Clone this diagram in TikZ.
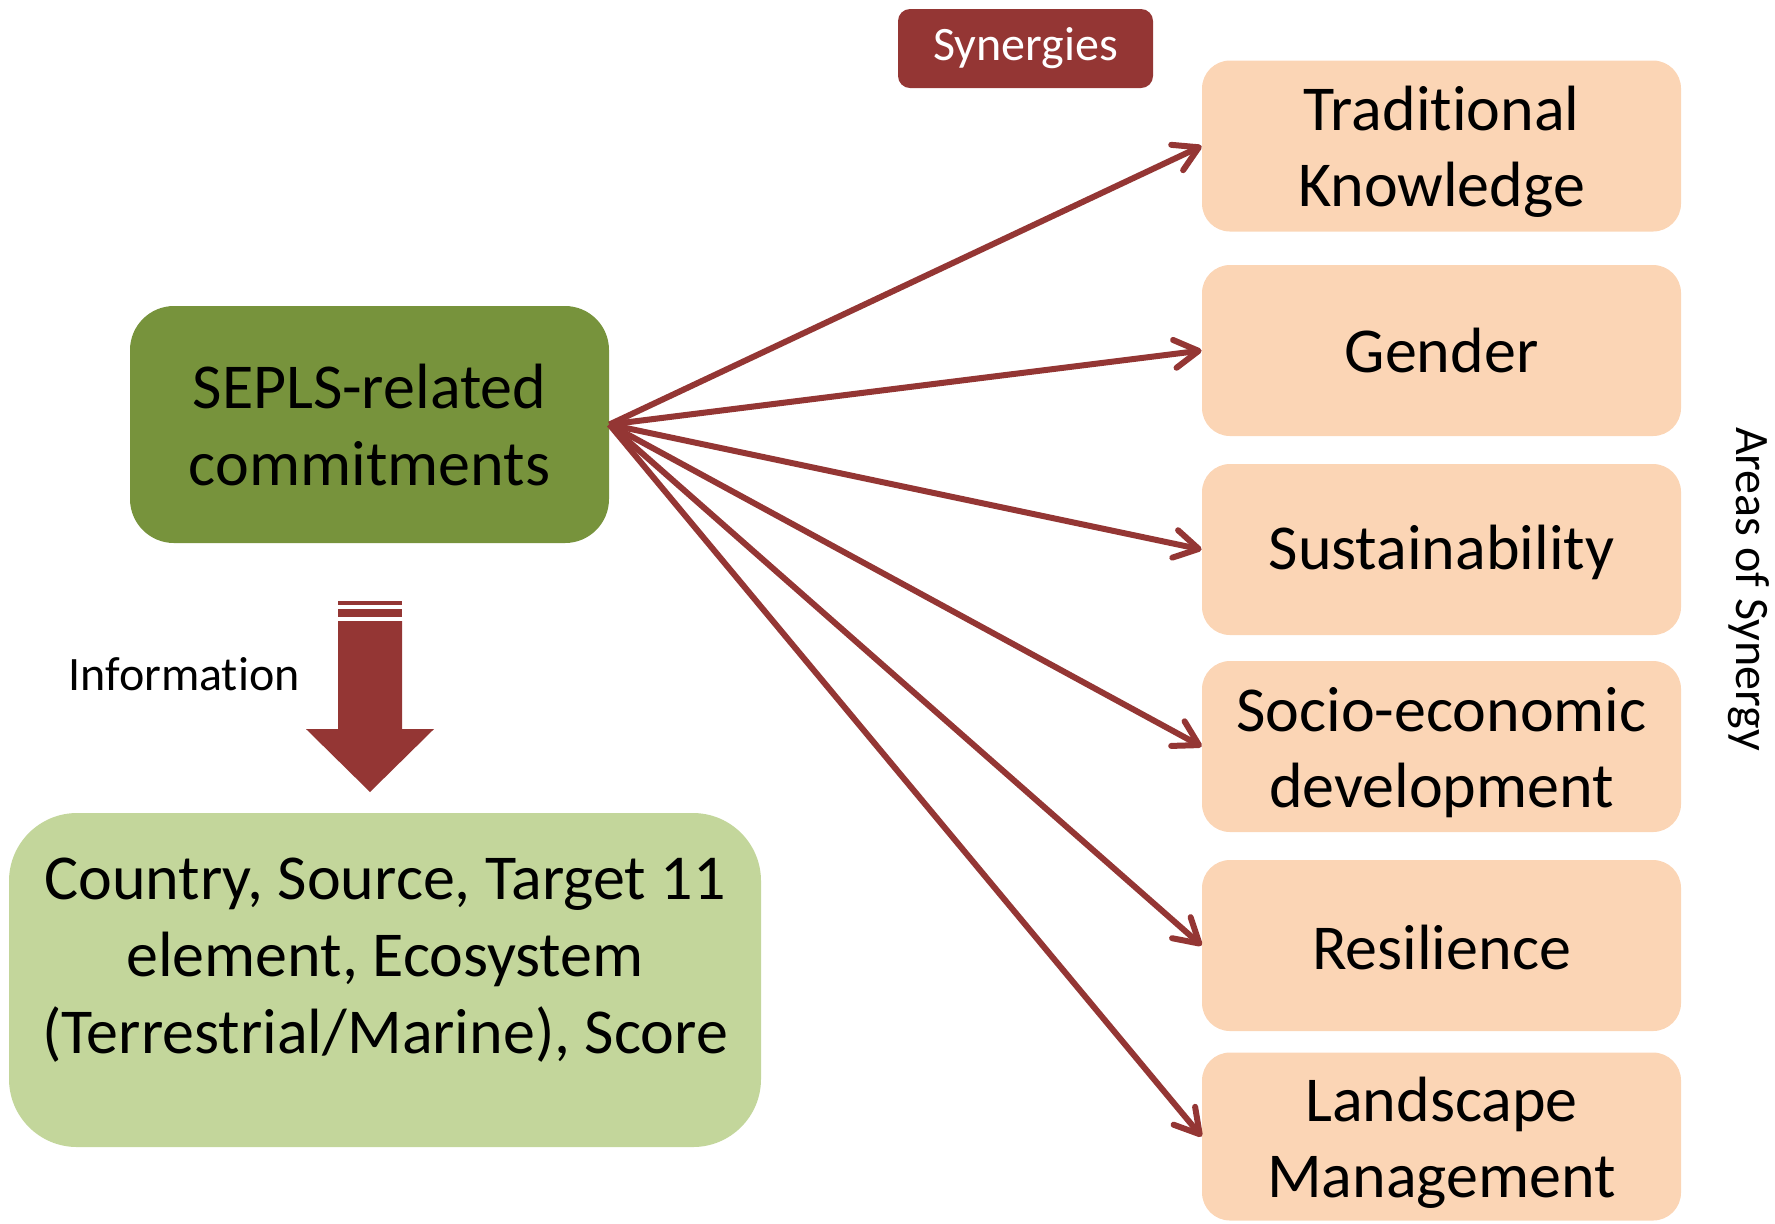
\documentclass[tikz,border=0pt]{standalone}
\usepackage{fontspec}
\setmainfont{Carlito}[Ligatures=NoCommon]
\usetikzlibrary{arrows.meta}
\definecolor{dred}{HTML}{943634}
\definecolor{dgreen}{HTML}{77933C}
\definecolor{lgreen}{HTML}{C3D69B}
\definecolor{peach}{HTML}{FBD5B5}
\begin{document}
\begin{tikzpicture}[x=0.5pt,y=-0.5pt,
  area/.style={fill=peach, rounded corners=14pt, minimum width=239.5pt, minimum height=85.5pt, inner sep=0pt},
  areatext/.style={align=center, font=\fontsize{32}{38}\selectfont, inner sep=0pt},
  link/.style={draw=dred, line width=3pt, -{Straight Barb[length=12pt,width=14pt,round]}}]
\useasboundingbox (0,0) rectangle (1775,1223);
% source box
\node[fill=dgreen, rounded corners=22pt, minimum width=239.5pt, minimum height=118.5pt, align=center, font=\fontsize{32}{38.5}\selectfont, inner sep=0pt] (seplsbox) at (369.5,424.5) {SEPLS-related\\commitments};
% info box
\node[fill=lgreen, rounded corners=34pt, minimum width=376pt, minimum height=167pt, inner sep=0pt] (infobox) at (385,980) {};
\node[align=center, font=\fontsize{32}{38.5}\selectfont, inner sep=0pt] (infotext) at (385,960) {Country, Source, Target 11\\element, Ecosystem\\(Terrestrial/Marine), Score};
% block arrow
\fill[dred] (338,601) rectangle (402,605);
\fill[dred] (338,609) rectangle (402,617);
\fill[dred] (338,621) -- (402,621) -- (402,729) -- (434,729) -- (370,792) -- (306,729) -- (338,729) -- cycle;
\node[font=\fontsize{24}{27}\selectfont, inner sep=0pt] (infolabel) at (184,674) {Information};
% synergies label
\node[fill=dred, text=white, rounded corners=6pt, minimum width=127.5pt, minimum height=39.5pt, font=\fontsize{24}{27}\selectfont, inner sep=0pt] (syn) at (1025.5,48.5) {Synergies};
% areas
\node[area] (tk) at (1441.5,146) {};
\node[area] (gen) at (1441.5,350.5) {};
\node[area] (sus) at (1441.5,549.5) {};
\node[area] (soc) at (1441.5,746.5) {};
\node[area] (res) at (1441.5,945.5) {};
\node[area, minimum height=84pt] (lan) at (1441.5,1136.5) {};
\node[areatext, yshift=-3pt] (tkt) at (tk) {Traditional\\Knowledge};
\node[areatext] (gent) at (gen) {Gender};
\node[areatext, yshift=-1.5pt] (sust) at (sus) {Sustainability};
\node[areatext, yshift=-3pt] (soct) at (soc) {Socio-economic\\development};
\node[areatext, yshift=-1pt] (rest) at (res) {Resilience};
\node[areatext, yshift=-3pt] (lant) at (lan) {Landscape\\Management};
\node[rotate=-90, font=\fontsize{24}{27}\selectfont, inner sep=0pt] (areas) at (1749,589) {Areas of Synergy};
% connectors
\foreach \t in {tk,gen,sus,soc,res,lan}
  \draw[link] (seplsbox.east) -- (\t.west);
\end{tikzpicture}
\end{document}
